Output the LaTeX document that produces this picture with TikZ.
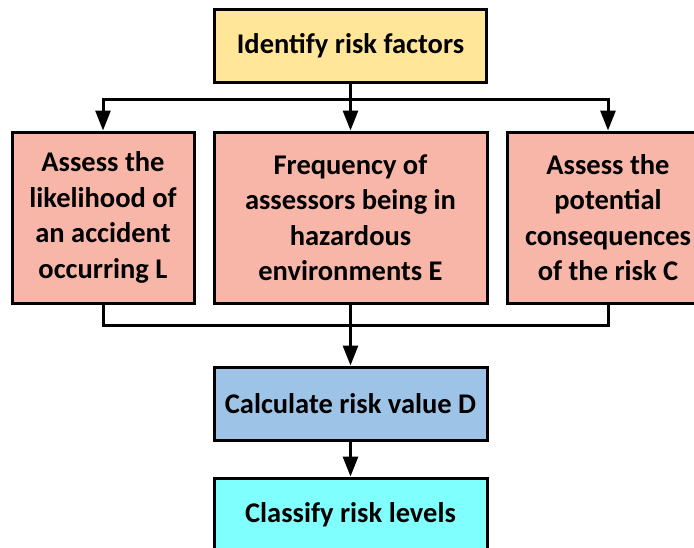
\documentclass[tikz,border=0pt]{standalone}
\usepackage{fontspec}
\setmainfont{Carlito}
\usetikzlibrary{arrows.meta}
\usetikzlibrary{positioning}

\definecolor{factorfill}{HTML}{FFE699}
\definecolor{assessfill}{HTML}{F8B6A8}
\definecolor{calcfill}{HTML}{9DC3E6}
\definecolor{levelfill}{HTML}{80FFFF}

\tikzset{
  stage/.style={draw=black, line width=3pt, minimum height=73pt, inner sep=0pt,
    align=center, font=\fontsize{28.5}{35.5}\selectfont\bfseries},
  link/.style={line width=3pt},
  flow/.style={link, -{Triangle[width=15pt,length=20pt]}}
}

\begin{document}
\begin{tikzpicture}[x=1pt,y=-1pt]
\useasboundingbox (0,0) rectangle (694,547);
% boxes
\node[stage, fill=factorfill, minimum width=272pt] (ident) at (350.5,45.5) {Identify risk factors};
\node[stage, fill=assessfill, minimum width=182pt, minimum height=171pt] (like) at (103,217.5)
  {Assess the\\likelihood of\\an accident\\occurring L};
\node[stage, fill=assessfill, minimum width=273pt, minimum height=171pt] (freq) at (350.5,217.5)
  {Frequency of\\assessors being in\\hazardous\\environments E};
\node[stage, fill=assessfill, minimum width=202pt, minimum height=171pt] (cons) at (608,217.5)
  {Assess the\\potential\\consequences\\of the risk C};
\node[stage, fill=calcfill, minimum width=273pt] (calc) at (350.5,403.5) {Calculate risk value D};
\node[stage, fill=levelfill, minimum width=273pt] (level) at (350.5,514.5) {Classify risk levels};
% connectors
\coordinate (split) at (350.5,99);
\coordinate (join) at (350.5,325);
\draw[flow] (ident) -- (freq);
\draw[flow] (split) -| (like.north);
\draw[flow] (split) -| (cons.north);
\draw[link] (like.south) |- (join);
\draw[link] (cons.south) |- (join);
\draw[flow] (freq) -- (calc);
\draw[flow] (calc) -- (level);
\end{tikzpicture}
\end{document}
